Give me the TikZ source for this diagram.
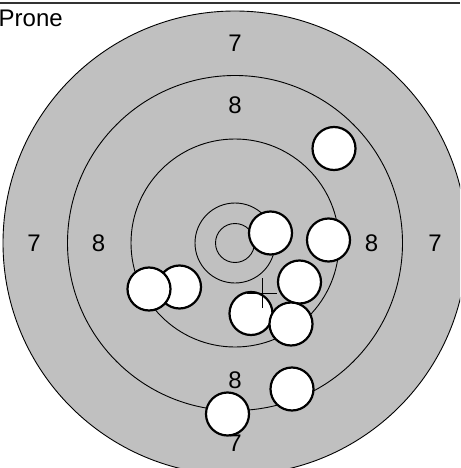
\documentclass[tikz,border=0pt]{standalone}
\usepackage{fontspec}
\setmainfont{Liberation Sans}
\definecolor{tgray}{RGB}{192,192,192}
\tikzset{
  ring/.style={draw=black, line width=0.9pt},
  shot/.style={circle, draw=black, fill=white, line width=2.2pt, minimum size=43pt, inner sep=0pt},
  score/.style={inner sep=0pt, font=\fontsize{24}{24}\selectfont},
  hair/.style={draw=black, line width=0.9pt},
}
\begin{document}
\begin{tikzpicture}[x=1pt, y=-1pt]
\useasboundingbox (0,0) rectangle (460,468);
\begin{scope}
\clip (0,0) rectangle (460,468);
\coordinate (c) at (235,243);
\draw[ring, fill=tgray] (c) circle (232);
\draw[ring] (c) circle (167.5);
\draw[ring] (c) circle (104);
\draw[ring] (c) circle (40);
\draw[ring] (c) circle (19.5);
\node[score] (t7) at (235,43) {7};
\node[score] (t8) at (235,105) {8};
\node[score] (l7) at (34,243) {7};
\node[score] (l8) at (98.5,243) {8};
\node[score] (r8) at (371.5,243) {8};
\node[score] (r7) at (435,243) {7};
\node[score] (b8) at (235,380) {8};
\node[score] (b7) at (235,443) {7};
\node[shot] (s1) at (334,148.5) {};
\node[shot] (s2) at (270.5,233) {};
\node[shot] (s3) at (328.5,240) {};
\node[shot] (s4) at (299.5,282) {};
\node[shot] (s5) at (179.5,287) {};
\node[shot] (s6) at (149,289) {};
\node[shot] (s7) at (251,313.5) {};
\node[shot] (s8) at (291,324) {};
\node[shot] (s9) at (292,389) {};
\node[shot] (s10) at (227.5,414) {};
\coordinate (x) at (262,293);
\draw[hair] ([xshift=-15pt]x) -- ([xshift=15pt]x);
\draw[hair] ([yshift=-15pt]x) -- ([yshift=15pt]x);
\draw[line width=1.8pt, black!80] (0,3.3) -- (460,3.3);
\node[inner sep=0pt, anchor=base west, font=\fontsize{24}{24}\selectfont] (title) at (-1.5,27) {Prone};
\end{scope}
\end{tikzpicture}
\end{document}
